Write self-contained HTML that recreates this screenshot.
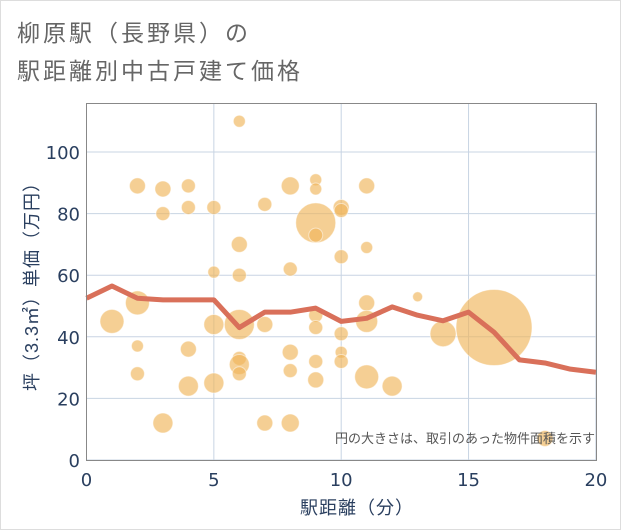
<!DOCTYPE html>
<html><head><meta charset="utf-8"><style>
body{margin:0;background:#fff}
svg{display:block;font-family:"Liberation Sans","Noto Sans CJK JP",sans-serif}
</style></head><body>
<svg id="c" width="621" height="530">
<rect x="0.5" y="0.5" width="620" height="529" fill="#fff" stroke="#ddd"/>
<text x="17" y="41" font-size="23" letter-spacing="3" fill="#666">柳原駅（長野県）の</text>
<text x="17" y="79" font-size="23" letter-spacing="3" fill="#666">駅距離別中古戸建て価格</text>
<g id="grid"></g>
<g id="bub"></g>
<g id="ln"></g>
<rect x="86.5" y="103.5" width="510" height="357" fill="none" stroke="#888"/>
<g id="ticks"></g>
<text x="357" y="514" font-size="18" letter-spacing="1" fill="#2a3f5f" text-anchor="middle">駅距離（分）</text>
<text transform="translate(38,282) rotate(-90)" font-size="18" letter-spacing="1" fill="#2a3f5f" text-anchor="middle">坪（3.3㎡）単価（万円）</text>
<text x="595" y="443" font-size="13" fill="#555" text-anchor="end">円の大きさは、取引のあった物件面積を示す</text>
</svg>
<script>
const xTicks=[0,5,10,15,20];
const yTicks=[0,20,40,60,80,100];
const bubX=[2,3,4,3,4,5,6,7,8,9,9,9,9,10,10,11,6,6,5,8,11,10,13,2,1,5,6,7,9,9,11,11,14,16,10,2,4,8,9,10,10,6,6,6,2,4,5,8,9,11,12,3,7,8,18];
const bubY=[89,88,89,80,82,82,110,83,89,91,88,77,73,82,81,89,70,60,61,62,69,66,53,51,45,44,44,44,47,43,51,45,41,43,41,37,36,35,32,35,32,33,31,28,28,24,25,29,26,27,24,12,12,12,7];
const bubArea=[8,8,7,7,7,7,6,7,9,6,6,20,7,8,7,8,8,7,6,7,6,7,5,12,12,10,15,8,7,7,8,11,13,38,7,6,8,8,7,6,7,7,10,7,7,10,10,7,8,12,10,10,8,9,8];
const lineX=[0,1,2,3,4,5,6,7,8,9,10,11,12,13,14,15,16,17,18,19,20];
const lineY=[52.5,56.5,52.5,52,52,52,43,48,48,49.3,45,46,49.7,47,45.2,48,41.5,32.5,31.5,29.5,28.5];
const NS='http://www.w3.org/2000/svg';
const sx=v=>86.5+v*25.47, sy=v=>460-v*3.08;
function mk(t,a,p){const e=document.createElementNS(NS,t);for(const k in a)e.setAttribute(k,a[k]);p.appendChild(e);return e;}
const g=document.getElementById('grid'),tk=document.getElementById('ticks');
xTicks.forEach(v=>{
 const l=mk('line',{x1:sx(v),x2:sx(v),y1:104,y2:460,stroke:'#c8d4e3'},g);
 
 
 const t=mk('text',{x:sx(v),y:486,'font-size':18,'font-family':'DejaVu Sans, sans-serif',fill:'#2a3f5f','text-anchor':'middle'},tk);
 t.textContent=v;
 
 
});
yTicks.forEach(v=>{
 const l=mk('line',{x1:87,x2:596,y1:sy(v),y2:sy(v),stroke:'#c8d4e3'},g);
 
 
 const t=mk('text',{x:80,y:sy(v)+7,'font-size':18,'font-family':'DejaVu Sans, sans-serif',fill:'#2a3f5f','text-anchor':'end'},tk);
 t.textContent=v;
 
 
});
const b=document.getElementById('bub');
bubX.forEach((x,i)=>{
 const c=mk('circle',{cx:sx(x),cy:sy(bubY[i]),r:bubArea[i],fill:'#f0b65a','fill-opacity':0.65,stroke:'#fff','stroke-opacity':0.5},b);
 
 
});
const pl=mk('polyline',{points:lineX.map((x,i)=>sx(x)+','+sy(lineY[i])).join(' '),fill:'none',stroke:'#d9705a','stroke-width':5,'stroke-linejoin':'round'},document.getElementById('ln'));


</script>
</body></html>
